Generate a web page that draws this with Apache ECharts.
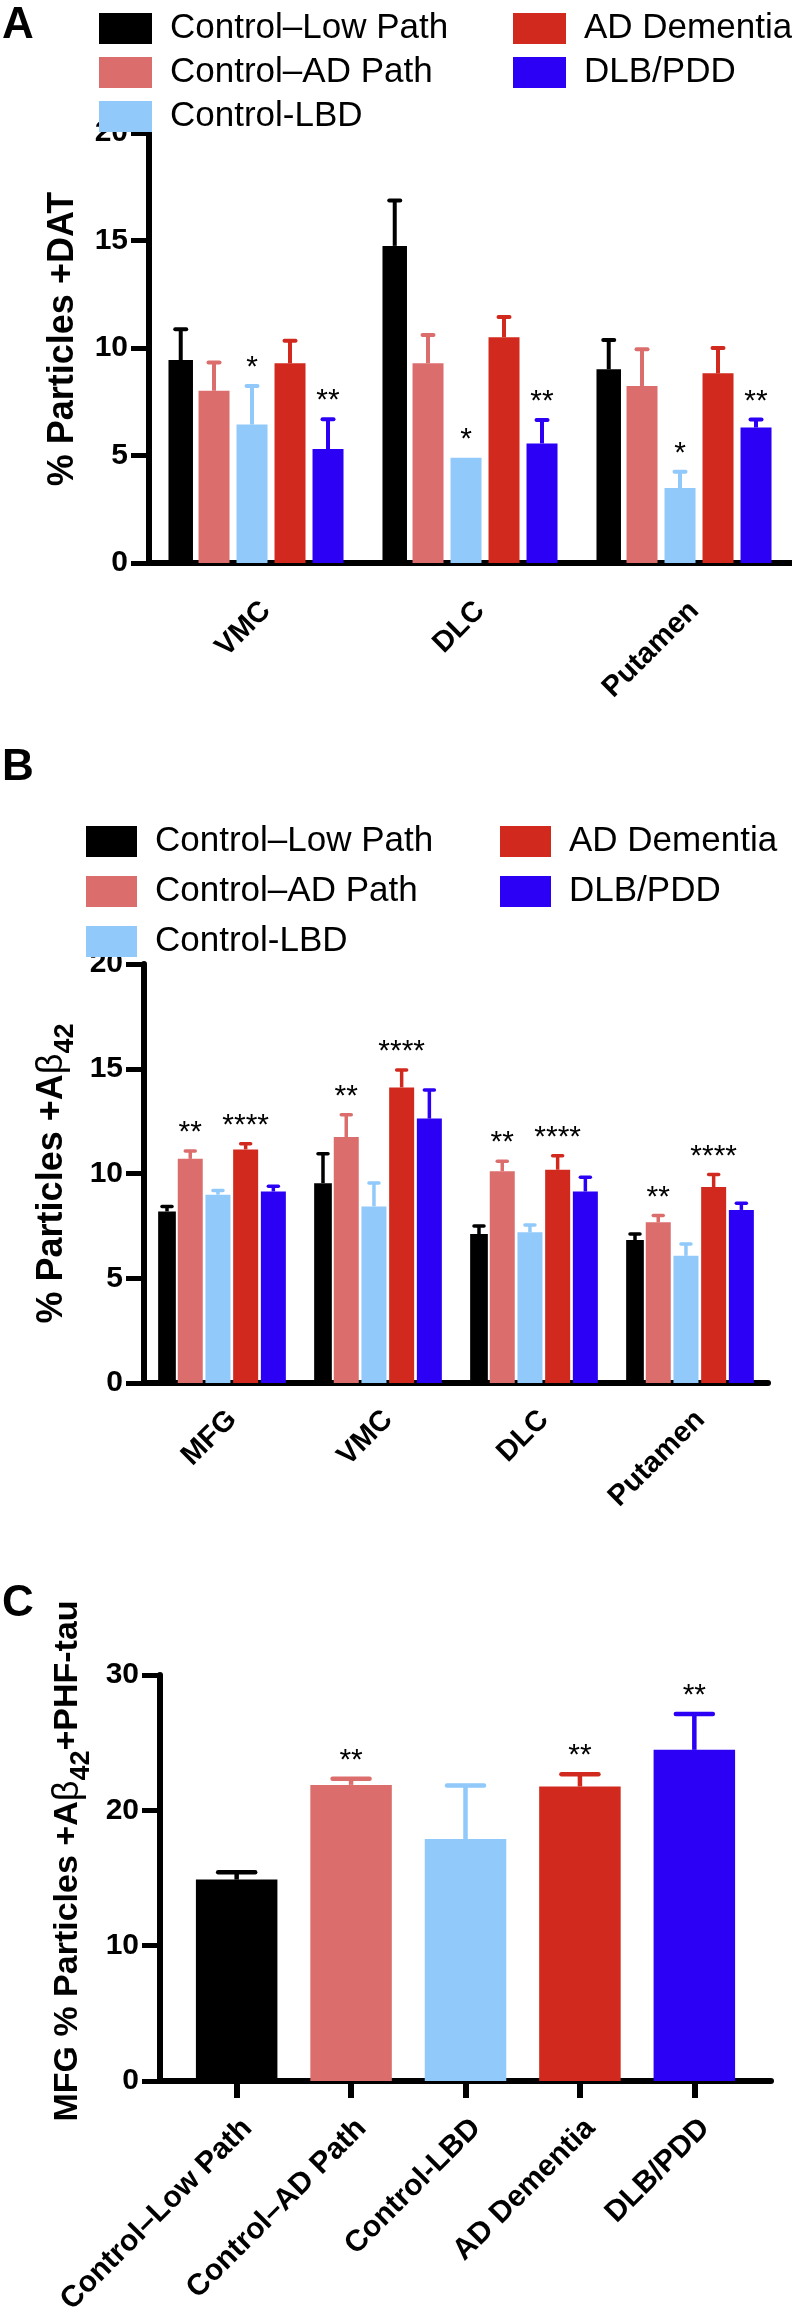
<!DOCTYPE html>
<html>
<head>
<meta charset="utf-8">
<script src="https://cdn.jsdelivr.net/npm/echarts@6/dist/echarts.min.js"></script>
<style>
html,body{margin:0;padding:0;background:#fff;}
#chart{width:792px;height:2322px;}
</style>
</head>
<body>
<div id="chart"></div>
<script>
// ---------- data ----------
const groups = ['Control–Low Path', 'Control–AD Path', 'Control-LBD', 'AD Dementia', 'DLB/PDD'];
const groupColors = ['#000000', '#DB6E6C', '#90C9FA', '#D1291D', '#2B00F5'];

// Panel A: % Particles +DAT
const regionsA = ['VMC', 'DLC', 'Putamen'];
const yTicksA = [0, 5, 10, 15, 20];
const aLowPath = [9.44, 14.75, 9.01];
const aLowPathSem = [1.43, 2.11, 1.36];
const aAdPath = [8.01, 9.29, 8.23];
const aAdPathSem = [1.31, 1.32, 1.71];
const aLbd = [6.44, 4.89, 3.49];
const aLbdSem = [1.79, 0, 0.75];
const aAdDem = [9.29, 10.50, 8.82];
const aAdDemSem = [1.05, 0.94, 1.18];
const aDlb = [5.30, 5.56, 6.30];
const aDlbSem = [1.39, 1.09, 0.38];
const aLbdSig = ['*', '*', '*'];
const aDlbSig = ['**', '**', '**'];

// Panel B: % Particles +Aβ42
const regionsB = ['MFG', 'VMC', 'DLC', 'Putamen'];
const yTicksB = [0, 5, 10, 15, 20];
const bLowPath = [8.19, 9.54, 7.11, 6.82];
const bLowPathSem = [0.23, 1.40, 0.38, 0.29];
const bAdPath = [10.70, 11.74, 10.11, 7.67];
const bAdPathSem = [0.37, 1.07, 0.48, 0.32];
const bLbd = [8.99, 8.43, 7.19, 6.07];
const bLbdSem = [0.20, 1.12, 0.35, 0.56];
const bAdDem = [11.15, 14.11, 10.18, 9.35];
const bAdDemSem = [0.27, 0.83, 0.67, 0.60];
const bDlb = [9.14, 12.62, 9.14, 8.26];
const bDlbSem = [0.25, 1.36, 0.68, 0.32];
const bAdPathSig = ['**', '**', '**', '**'];
const bAdDemSig = ['****', '****', '****', '****'];

// Panel C: MFG % Particles +Aβ42+PHF-tau
const yTicksC = [0, 10, 20, 30];
const cMean = [14.88, 21.88, 17.88, 21.76, 24.47];
const cSem = [0.54, 0.45, 3.96, 0.91, 2.65];
const cSig = ['', '**', '', '**', '**'];

// ---------- helpers ----------
const F = '"Liberation Sans", Arial, Helvetica, sans-serif';

function barOffsets(widths, gap) {
  let sum = 0;
  widths.forEach(w => { sum += w * (1 + gap); });
  sum -= widths[widths.length - 1] * gap;
  let o = -sum / 2;
  return widths.map(w => { const c = o + w / 2; o += w * (1 + gap); return c; });
}

function errorSeries(axisIdx, id, means, sems, sigs, colorOf, offset, capW, lw, starSize) {
  return {
    type: 'custom', name: id, xAxisIndex: axisIdx, yAxisIndex: axisIdx, z: 5, silent: true,
    data: means.map((m, i) => [i, m, m + sems[i]]),
    encode: { x: 0, y: [1, 2] },
    renderItem: function (params, api) {
      const i = params.dataIndex;
      const base = api.coord([api.value(0), api.value(1)]);
      const top = api.coord([api.value(0), api.value(2)]);
      const x = base[0] + offset;
      const col = colorOf(i);
      const ch = [];
      if (top[1] < base[1] - 0.5) {
        ch.push({ type: 'line', shape: { x1: x, y1: base[1], x2: x, y2: top[1] }, style: { stroke: col, lineWidth: lw } });
        ch.push({ type: 'line', shape: { x1: x - capW / 2, y1: top[1], x2: x + capW / 2, y2: top[1] }, style: { stroke: col, lineWidth: lw, lineCap: 'round' } });
      }
      const s = sigs ? sigs[i] : '';
      if (s) {
        ch.push({ type: 'text', x: x, y: top[1] - 18, style: { text: s, fill: '#000', font: starSize + 'px ' + F, align: 'center', verticalAlign: 'middle' } });
      }
      return { type: 'group', children: ch };
    }
  };
}

function groupedPanel(axisIdx, tag, means, sems, sigs, widths, gap, capW, lw, starSize) {
  const offs = barOffsets(widths, gap);
  const out = [];
  means.forEach((m, g) => {
    out.push({
      type: 'bar', name: groups[g], xAxisIndex: axisIdx, yAxisIndex: axisIdx,
      data: m, barWidth: widths[g], barGap: (gap * 100) + '%',
      itemStyle: { color: groupColors[g] }, z: 2
    });
  });
  means.forEach((m, g) => {
    out.push(errorSeries(axisIdx, tag + '-err-' + g, m, sems[g], sigs[g], () => groupColors[g], offs[g], capW, lw, starSize));
  });
  return out;
}

const lineStyle6 = { color: '#000', width: 6 };

function yAxisDef(gridIndex, ticks, name, nameGap, extraName) {
  return Object.assign({
    type: 'value', gridIndex: gridIndex,
    min: ticks[0], max: ticks[ticks.length - 1], interval: ticks[1] - ticks[0],
    splitLine: { show: false },
    axisLine: { show: true, onZero: false, lineStyle: lineStyle6 },
    axisTick: { show: true, length: 18, lineStyle: { color: '#000', width: 5 } },
    axisLabel: { margin: 21, fontSize: 30, fontWeight: 'bold', color: '#000', fontFamily: F },
    name: name, nameLocation: 'middle', nameRotate: 90, nameGap: nameGap
  }, extraName || {});
}

function catAxisDef(gridIndex, cats, margin) {
  return {
    type: 'category', gridIndex: gridIndex, data: cats,
    axisLine: { onZero: false, lineStyle: lineStyle6 },
    axisTick: { alignWithLabel: true, length: 17, lineStyle: { color: '#000', width: 6 } },
    axisLabel: { rotate: 45, align: 'right', verticalAlign: 'top', margin: margin, fontSize: 29, fontWeight: 'bold', color: '#000', fontFamily: F },
    splitLine: { show: false }
  };
}

function legendDef(items, left, top, w, gap) {
  return {
    data: items, orient: 'vertical', left: left, top: top,
    itemWidth: w, itemHeight: 31, itemGap: gap, icon: 'rect', selectedMode: false,
    textStyle: { fontSize: 35, color: '#000', fontFamily: F, lineHeight: 31, padding: [0, 0, 0, 13] }
  };
}

const nameStyleBase = { fontSize: 36, fontWeight: 'bold', color: '#000', fontFamily: F };
const richSub = {
  b: { fontSize: 36, fontWeight: 'normal', fontFamily: F, color: '#000', verticalAlign: 'middle' },
  s: { fontSize: 27, fontWeight: 'bold', fontFamily: F, color: '#000', lineHeight: 27, verticalAlign: 'bottom' }
};

// ---------- series ----------
const seriesA = groupedPanel(0, 'A',
  [aLowPath, aAdPath, aLbd, aAdDem, aDlb],
  [aLowPathSem, aAdPathSem, aLbdSem, aAdDemSem, aDlbSem],
  [null, null, aLbdSig, null, aDlbSig],
  [24.5, 31, 31, 31, 31], 0.2258, 11, 4, 30);

const seriesB = groupedPanel(1, 'B',
  [bLowPath, bAdPath, bLbd, bAdDem, bDlb],
  [bLowPathSem, bAdPathSem, bLbdSem, bAdDemSem, bDlbSem],
  [null, bAdPathSig, null, bAdDemSig, null],
  [17.7, 25, 25, 25, 25], 0.108, 10, 3.5, 30);

const seriesC = [
  {
    type: 'bar', name: 'MFG Aβ42+PHF-tau', xAxisIndex: 2, yAxisIndex: 2, barWidth: 81.5, z: 2,
    data: cMean.map((v, i) => ({ value: [i, v], itemStyle: { color: groupColors[i] } }))
  },
  errorSeries(2, 'C-err', cMean, cSem, cSig, i => groupColors[i], 0, 37, 4.5, 30)
];

const option = {
  animation: false,
  backgroundColor: '#fff',
  textStyle: { fontFamily: F },
  graphic: [
    { type: 'text', left: 2, top: 4, style: { text: 'A', font: 'bold 44px ' + F, fill: '#000' } },
    { type: 'text', left: 2, top: 746, style: { text: 'B', font: 'bold 44px ' + F, fill: '#000' } },
    { type: 'text', left: 2, top: 1582, style: { text: 'C', font: 'bold 44px ' + F, fill: '#000' } }
  ],
  legend: [
    legendDef(groups.slice(0, 3), 94, 6, 53, 9),
    legendDef(groups.slice(3), 508, 6, 53, 9),
    legendDef(groups.slice(0, 3), 81, 819, 51, 15),
    legendDef(groups.slice(3), 495, 819, 51, 15)
  ],
  grid: [
    { left: 149, top: 133, width: 642, height: 430 },
    { left: 144, top: 964, width: 624, height: 419 },
    { left: 160, top: 1675, width: 611, height: 406 }
  ],
  xAxis: [
    catAxisDef(0, regionsA, 33),
    catAxisDef(1, regionsB, 22),
    {
      type: 'value', gridIndex: 2, min: -0.67, max: 4.67,
      splitLine: { show: false },
      axisLine: { onZero: false, lineStyle: lineStyle6 },
      axisTick: { show: true, customValues: [0, 1, 2, 3, 4], length: 17, lineStyle: { color: '#000', width: 6 } },
      axisLabel: {
        customValues: [0, 1, 2, 3, 4],
        formatter: v => groups[Math.round(v)],
        rotate: 45, align: 'right', verticalAlign: 'top', margin: 32,
        fontSize: 30, fontWeight: 'bold', color: '#000', fontFamily: F
      }
    }
  ],
  yAxis: [
    yAxisDef(0, yTicksA, '% Particles +DAT', 68, { nameTextStyle: Object.assign({ padding: [0, 0, 0, 18] }, nameStyleBase) }),
    yAxisDef(1, yTicksB, '% Particles +A{b|β}{s|42}', 56, { nameTextStyle: Object.assign({ lineHeight: 54, rich: richSub }, nameStyleBase) }),
    yAxisDef(2, yTicksC, 'MFG % Particles +A{b|β}{s|42}+PHF-tau', 50, { nameTextStyle: Object.assign({ lineHeight: 54, rich: richSub, padding: [0, 0, 0, 34] }, nameStyleBase, { fontSize: 34 }) })
  ],
  series: [].concat(seriesA, seriesB, seriesC)
};

const chart = echarts.init(document.getElementById('chart'), null, { renderer: 'canvas' });
chart.setOption(option);
</script>
</body>
</html>
